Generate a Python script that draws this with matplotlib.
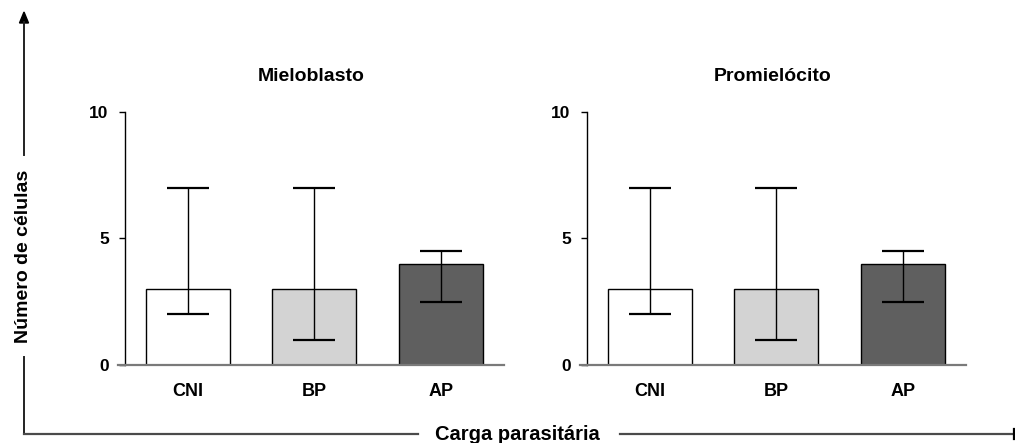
import matplotlib
matplotlib.use("Agg")
import matplotlib.pyplot as plt
from matplotlib.lines import Line2D

plt.rcParams['font.family'] = ['Liberation Sans', 'DejaVu Sans']
plt.rcParams['font.weight'] = 'bold'

# Data
groups = ["CNI", "BP", "AP"]
panels = ["Mieloblasto", "Promielócito"]
means = {
    "Mieloblasto": [3, 3, 4],
    "Promielócito": [3, 3, 4],
}
lower = {
    "Mieloblasto": [2, 1, 2.5],
    "Promielócito": [2, 1, 2.5],
}
upper = {
    "Mieloblasto": [7, 7, 4.5],
    "Promielócito": [7, 7, 4.5],
}
yticks = [0, 5, 10]
bar_colors = ["#ffffff", "#d3d3d3", "#5f5f5f"]
ylabel = "Número de células"
xlabel = "Carga parasitária"

W, H = 1015, 443
fig = plt.figure(figsize=(W / 100, H / 100), dpi=100)

# axes rectangles in pixels: (left, top, right, bottom)
rects = [(118, 112, 504, 365), (580, 112, 966, 365)]

for name, (l, t, r, b) in zip(panels, rects):
    ax = fig.add_axes([l / W, 1 - b / H, (r - l) / W, (b - t) / H])
    for s in ("top", "right"):
        ax.spines[s].set_visible(False)
    ax.spines["left"].set_position(("data", -0.5))
    ax.spines["left"].set_linewidth(1.0)
    ax.spines["bottom"].set_color("#7a7a7a")
    ax.spines["bottom"].set_linewidth(1.6)

    x = list(range(len(groups)))
    m = means[name]
    err_lo = [mi - lo for mi, lo in zip(m, lower[name])]
    err_hi = [hi - mi for mi, hi in zip(m, upper[name])]
    ax.bar(x, m, width=0.665, color=bar_colors, edgecolor="black",
           linewidth=1.0, zorder=2)
    ax.errorbar(x, m, yerr=[err_lo, err_hi], fmt="none", ecolor="black",
                elinewidth=1.0, capsize=14.8, capthick=1.6, zorder=3)
    ax.set_xlim(-0.553, 2.5)
    ax.set_ylim(0, 10)
    ax.set_yticks(yticks)
    ax.set_yticklabels([str(v) for v in yticks])
    ax.set_xticks(x)
    ax.set_xticklabels(groups)
    ax.tick_params(axis="x", length=0, pad=13, labelsize=13)
    ax.tick_params(axis="y", length=4.5, width=1.0, pad=7, direction="out",
                   labelsize=12.5)
    for lab in ax.get_xticklabels() + ax.get_yticklabels():
        lab.set_fontweight("bold")
    ax.set_title(name, fontsize=14, fontweight="bold", pad=22)

# Figure-level arrowed axes with labels
def fx(px):
    return px / W

def fy(py):
    return 1 - py / H

vx = 24
hy = 434
line_kw = dict(transform=fig.transFigure, color="#222222", linewidth=1.4)
# vertical arrow (two segments around the label)
fig.add_artist(Line2D([fx(vx), fx(vx)], [fy(hy), fy(357)], **line_kw))
fig.add_artist(Line2D([fx(vx), fx(vx)], [fy(155), fy(22)], **line_kw))
fig.patches.append(plt.Polygon([[fx(vx - 4.5), fy(23)], [fx(vx + 4.5), fy(23)],
                                [fx(vx), fy(12)]], closed=True,
                               transform=fig.transFigure, color="black"))
fig.text(fx(vx), fy(256), ylabel, rotation=90, ha="center", va="center",
         fontsize=14, fontweight="bold")

# horizontal arrow
hline_kw = dict(transform=fig.transFigure, color="#4a4a4a", linewidth=1.6)
fig.add_artist(Line2D([fx(vx), fx(418)], [fy(hy), fy(hy)], **hline_kw))
fig.add_artist(Line2D([fx(620), fx(1014)], [fy(hy), fy(hy)], **hline_kw))
fig.add_artist(Line2D([fx(1014), fx(1014)], [fy(hy - 5), fy(hy + 5)],
                      transform=fig.transFigure, color="black", linewidth=1.6))
fig.text(fx(517), fy(hy), xlabel, ha="center", va="center",
         fontsize=14.5, fontweight="bold")

fig.savefig("out.png", dpi=100, facecolor="white")
